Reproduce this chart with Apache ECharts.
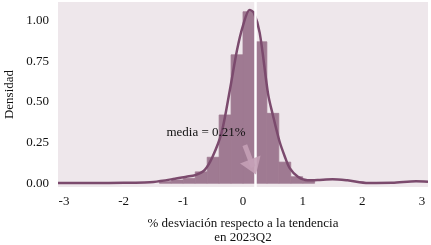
<!DOCTYPE html>
<html>
<head>
<meta charset="utf-8">
<script src="https://cdn.jsdelivr.net/npm/echarts@6/dist/echarts.min.js"></script>
<style>
  html, body { margin: 0; padding: 0; background: #fff; }
  #chart-container { width: 431px; height: 245px; }
</style>
</head>
<body>
<div id="chart-container"></div>
<script>
// histogram bins (left edge, right edge, density)
const binStart = [-1.4, -1.2, -1.0, -0.8, -0.6, -0.4, -0.2, 0.0, 0.2, 0.4, 0.6, 0.8, 1.0];
const binEnd   = [-1.2, -1.0, -0.8, -0.6, -0.4, -0.2, 0.0, 0.2, 0.4, 0.6, 0.8, 1.0, 1.2];
const binDensity = [0.01, 0.02, 0.03, 0.07, 0.16, 0.42, 0.79, 1.055, 0.87, 0.43, 0.13, 0.04, 0.015];

// kernel density curve
const kdeX = [-3.1, -2.5, -2.0, -1.65, -1.5, -1.17, -0.95, -0.8, -0.64, -0.51, -0.36, -0.22, -0.1, 0.0, 0.11, 0.18, 0.28, 0.42, 0.5, 0.61, 0.7, 0.78, 0.92, 1.08, 1.25, 1.5, 1.75, 2.1, 2.5, 2.9, 3.1];
const kdeY = [0.002, 0.002, 0.003, 0.005, 0.008, 0.026, 0.04, 0.05, 0.083, 0.163, 0.31, 0.574, 0.82, 0.97, 1.066, 1.05, 0.925, 0.55, 0.42, 0.26, 0.165, 0.095, 0.04, 0.018, 0.02, 0.025, 0.018, 0.002, 0.003, 0.012, 0.009];

const meanValue = 0.21;
const meanLabel = 'media = 0.21%';
const arrowFrom = [0.03, 0.235];
const arrowTo = [0.17, 0.1];
const labelAt = [-0.62, 0.31];

const xTicks = [-3, -2, -1, 0, 1, 2, 3];
const yTicks = [0, 0.25, 0.5, 0.75, 1.0];

const FONT = 'Liberation Serif';
const barColor = '#9f7a92';
const lineColor = '#7b4a6d';

const histData = binStart.map((s, i) => [s, binEnd[i], binDensity[i]]);
const kdeData = kdeX.map((x, i) => [x, kdeY[i]]);

const myChart = echarts.init(document.getElementById('chart-container'));
const option = {
  animation: false,
  grid: {
    left: 58, right: 3, top: 2, bottom: 58,
    outerBoundsMode: 'none',
    show: true, backgroundColor: '#eee7eb', borderWidth: 0
  },
  xAxis: {
    type: 'value',
    min: -3.1, max: 3.1,
    name: '% desviación respecto a la tendencia\nen 2023Q2',
    nameLocation: 'middle',
    nameGap: 30,
    nameTextStyle: { fontFamily: FONT, fontSize: 13, color: '#111', lineHeight: 13.5 },
    axisLine: { show: false },
    axisTick: { show: false },
    splitLine: { show: false },
    axisLabel: {
      customValues: xTicks,
      margin: 8,
      fontFamily: FONT, fontSize: 13, color: '#111',
      formatter: v => String(v)
    }
  },
  yAxis: {
    type: 'value',
    min: -0.023, max: 1.115,
    name: 'Densidad',
    nameLocation: 'middle',
    nameGap: 42,
    nameMoveOverlap: false,
    nameTextStyle: { fontFamily: FONT, fontSize: 13, color: '#111' },
    axisLine: { show: false },
    axisTick: { show: false },
    splitLine: { show: false },
    axisLabel: {
      customValues: yTicks,
      margin: 9,
      fontFamily: FONT, fontSize: 13, color: '#111',
      formatter: v => v.toFixed(2)
    }
  },
  series: [
    {
      type: 'custom',
      z: 2,
      encode: { x: [0, 1], y: 2 },
      data: histData,
      renderItem: (params, api) => {
        const p0 = api.coord([api.value(0), 0]);
        const p1 = api.coord([api.value(1), api.value(2)]);
        return {
          type: 'rect',
          shape: { x: p0[0], y: p1[1], width: p1[0] - p0[0], height: p0[1] - p1[1] },
          style: { fill: barColor, stroke: barColor, lineWidth: 0.8 }
        };
      }
    },
    {
      type: 'line',
      z: 3,
      data: kdeData,
      smooth: 0.3,
      showSymbol: false,
      lineStyle: { color: lineColor, width: 2.5 }
    },
    {
      // mean line
      type: 'line',
      z: 4,
      data: [],
      markLine: {
        silent: true,
        symbol: ['none', 'none'],
        label: { show: false },
        lineStyle: { color: '#ffffff', width: 2.5, type: 'solid' },
        data: [{ xAxis: meanValue }]
      }
    },
    {
      // arrow + text
      type: 'line',
      z: 5,
      data: [],
      markLine: {
        silent: true,
        symbol: ['none', 'triangle'],
        symbolSize: [22, 16],
        label: { show: false },
        lineStyle: { color: 'rgba(196,160,182,0.9)', width: 5, type: 'solid', opacity: 1 },
        data: [[{ coord: arrowFrom }, { coord: arrowTo }]]
      },
      markPoint: {
        silent: true,
        symbol: 'rect',
        symbolSize: 1,
        itemStyle: { color: 'rgba(0,0,0,0)' },
        label: {
          show: true, position: 'inside',
          formatter: meanLabel,
          fontFamily: FONT, fontSize: 13, color: '#111'
        },
        data: [{ coord: labelAt }]
      }
    }
  ]
};
myChart.setOption(option);
</script>
</body>
</html>
